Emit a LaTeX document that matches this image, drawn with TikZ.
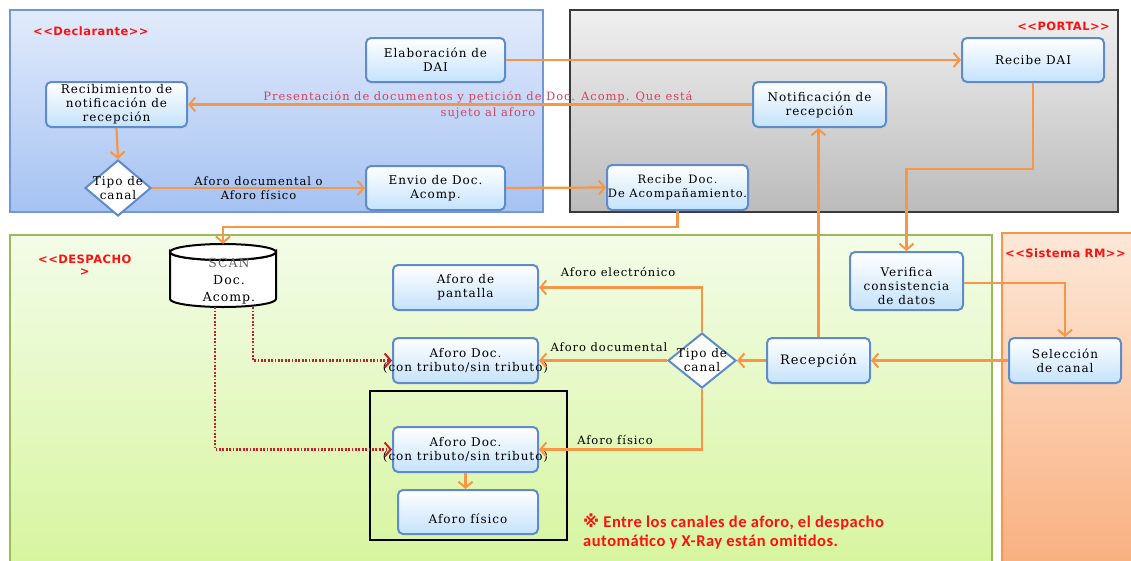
\documentclass[tikz,border=0pt]{standalone}
\usepackage{fontspec}
\setmainfont{DejaVu Serif}[LetterSpace=8]
\newfontfamily\tagfont{DejaVu Sans}[LetterSpace=4]
\newfontfamily\notefont{Carlito}[LetterSpace=3]
\newfontfamily\symfont{DejaVu Sans}
\usetikzlibrary{shapes.geometric,arrows.meta}
\definecolor{arrowc}{HTML}{F79646}
\definecolor{boxborder}{HTML}{5F8BCB}
\definecolor{boxfill}{HTML}{C4E2FB}
\definecolor{tagred}{HTML}{FF1010}
\definecolor{presred}{HTML}{D9415E}
\definecolor{dotred}{HTML}{C4202A}
\definecolor{declTop}{HTML}{E2EBFC}
\definecolor{declBot}{HTML}{A5C2F2}
\definecolor{declBorder}{HTML}{7396D6}
\definecolor{portTop}{HTML}{F0F0F0}
\definecolor{portBot}{HTML}{BBBBBB}
\definecolor{portBorder}{HTML}{3A3A3A}
\definecolor{despTop}{HTML}{F3FCE8}
\definecolor{despBot}{HTML}{D7F5A0}
\definecolor{despBorder}{HTML}{9BBB59}
\definecolor{rmTop}{HTML}{FDE8D8}
\definecolor{rmBot}{HTML}{F9B080}
\tikzset{
  box/.style={draw=boxborder, line width=2pt, rounded corners=5pt,
    top color=white, bottom color=boxfill, align=center, font=\fontsize{12}{14}\selectfont,
    inner sep=0pt},
  dia/.style={diamond, draw=boxborder, line width=2pt, fill=white, inner sep=0pt,
    minimum width=66pt, minimum height=56pt},
  arr/.style={draw=arrowc, line width=2.2pt, -{Straight Barb[length=6pt,width=14pt,line width=2pt]}},
  dotarr/.style={draw=dotred, line width=2.2pt, dash pattern=on 1.8pt off 1.6pt, -{Straight Barb[length=6pt,width=14pt,line width=2pt]}},
  lab/.style={font=\fontsize{11.5}{14}\selectfont, inner sep=1pt, align=center},
  boxlab/.style={font=\fontsize{12}{14}\selectfont, inner sep=0pt, align=center},
  tag/.style={text=tagred, font=\tagfont\bfseries\fontsize{11.5}{13}\selectfont, inner sep=0pt, align=center},
  cyl/.style={draw=black, line width=2pt, fill=white},
}
\begin{document}
\begin{tikzpicture}[x=1pt,y=-1pt]
\useasboundingbox (0,0) rectangle (1131,560);
% regions
\path[draw=declBorder, line width=2pt, top color=declTop, bottom color=declBot] (10,10) rectangle (543,212);
\path[draw=portBorder, line width=2pt, top color=portTop, bottom color=portBot] (570,10) rectangle (1118,212);
\path[draw=despBorder, line width=2pt, top color=despTop, bottom color=despBot] (10,235) rectangle (992,563);
\path[draw=arrowc, line width=2pt, top color=rmTop, bottom color=rmBot] (1002,233) rectangle (1134,563);
% tags
\node[tag, anchor=west] (tdecl) at (33,31) {<<Declarante>>};
\node[tag, anchor=east] (tport) at (1110,26) {<<PORTAL>>};
\node[tag, anchor=north west, align=center] (tdesp) at (38,255) {<<DESPACHO\\[-1pt]>};
\node[tag, anchor=west] (trm) at (1005,253) {<<Sistema RM>>};
% nodes
\node[box, minimum width=139pt, minimum height=44pt] (elab) at (435.5,60) {Elaboración de\\DAI};
\node[box, minimum width=141pt, minimum height=45pt, label={[boxlab]center:{Recibimiento de\\notificación de\\recepción}}] (recib) at (116.5,104.5) {};
\node[dia, label={[boxlab]center:{Tipo de\\canal}}] (dia1) at (118,188) {};
\node[box, minimum width=139pt, minimum height=44pt] (envio) at (435.5,188) {Envio de Doc.\\Acomp.};
\node[box, minimum width=142pt, minimum height=44pt] (recdai) at (1033,60) {Recibe DAI};
\node[box, minimum width=133pt, minimum height=45pt] (notif) at (819.5,104.5) {Notificación de\\recepción};
\node[box, minimum width=141pt, minimum height=45pt, label={[boxlab, font=\fontsize{11.5}{14}\selectfont]center:{Recibe\, Doc.\\De Acompañamiento.}}] (recdoc) at (677.5,187.5) {};
% SCAN cylinder
\node[minimum width=106pt, minimum height=63pt, inner sep=0pt] (scan) at (223,275.5) {};
\path[cyl] (170,252) -- (170,299) arc[start angle=180, end angle=0, x radius=53, y radius=8]
  -- (276,252) arc[start angle=0, end angle=180, x radius=53, y radius=8] -- cycle;
\draw[cyl] (223,252) ellipse [x radius=53, y radius=8];
\node[boxlab, font=\fontsize{12.5}{17}\selectfont] (scantxt) at (229,281) {\textcolor{black!60}{SCAN}\\Doc.\\Acomp.};
\node[box, minimum width=145pt, minimum height=45pt] (afpant) at (465.5,287.5) {Aforo de\\pantalla};
\node[box, minimum width=145pt, minimum height=45pt, label={[boxlab]center:{Aforo Doc.\\(con tributo/sin tributo)}}] (afdoc1) at (465.5,360.5) {};
\draw[black, line width=2.2pt] (370,391) rectangle (567,540);
\node[box, minimum width=145pt, minimum height=45pt, label={[boxlab]center:{Aforo Doc.\\(con tributo/sin tributo)}}] (afdoc2) at (465.5,449.5) {};
\node[box, minimum width=140pt, minimum height=44pt, label={[boxlab, yshift=-7pt]center:{Aforo físico}}] (affis) at (468,512) {};
\node[dia, minimum width=68pt, minimum height=55pt, label={[boxlab]center:{Tipo de\\canal}}] (dia2) at (702,360.5) {};
\node[box, minimum width=103pt, minimum height=45pt, font=\fontsize{13}{15}\selectfont] (recep) at (818.5,360.5) {Recepción};
\node[box, minimum width=113pt, minimum height=58pt, label={[boxlab, yshift=-5pt]center:{Verifica\\consistencia\\de datos}}] (verif) at (906.5,281) {};
\node[box, minimum width=112pt, minimum height=45pt] (selec) at (1065,360.5) {Selección\\de canal};
% connectors
\draw[arr] (elab.east) -- (recdai.west);
\draw[arr] (notif.west) -- (recib.east);
\node[lab, text=presred] (pres1) at (478,97) {Presentación de documentos y petición de Doc. Acomp. Que está};
\node[lab, text=presred] (pres2) at (488,113) {sujeto al aforo};
\draw[arr] (recib.south) -- (dia1.north);
\draw[arr] (dia1.east) -- (envio.west) node[lab, midway] (l1) {Aforo documental o\\Aforo físico};
\draw[arr] (envio.east) -- (recdoc.west);
\draw[arr] (recdoc.south) -- ++(0,16) -| (scan.north);
\draw[arr] (recdai.south) -- ++(0,86) -| (verif.north);
\draw[arr] (verif.east |- 0,283) -| (selec.north);
\draw[arr] (selec.west) -- (recep.east);
\draw[arr] (recep.north) -- (recep.north |- notif.south);
\draw[arr] (recep.west) -- (dia2.east);
\draw[arr] (dia2.west) -- (afdoc1.east);
\node[lab] (l2) at (609,347) {Aforo documental};
\draw[arr] (dia2.north) |- (afpant.east);
\node[lab] (l3) at (618,272) {Aforo electrónico};
\draw[arr] (dia2.south) |- (afdoc2.east);
\node[lab] (l4) at (615,440) {Aforo físico};
\draw[arr] (afdoc2.south) -- (afdoc2.south |- affis.north);
\draw[dotarr] ([xshift=30pt]scan.south) |- (afdoc1.west);
\draw[dotarr] ([xshift=-8pt]scan.south) |- (afdoc2.west);
% note
\node[anchor=north west, text=tagred, align=left, inner sep=0pt,
  font=\notefont\bfseries\fontsize{16.5}{18.5}\selectfont] (note) at (583,514)
  {{\symfont ※} Entre los canales de aforo, el despacho\\automático y X-Ray están omitidos.};
\end{tikzpicture}
\end{document}
